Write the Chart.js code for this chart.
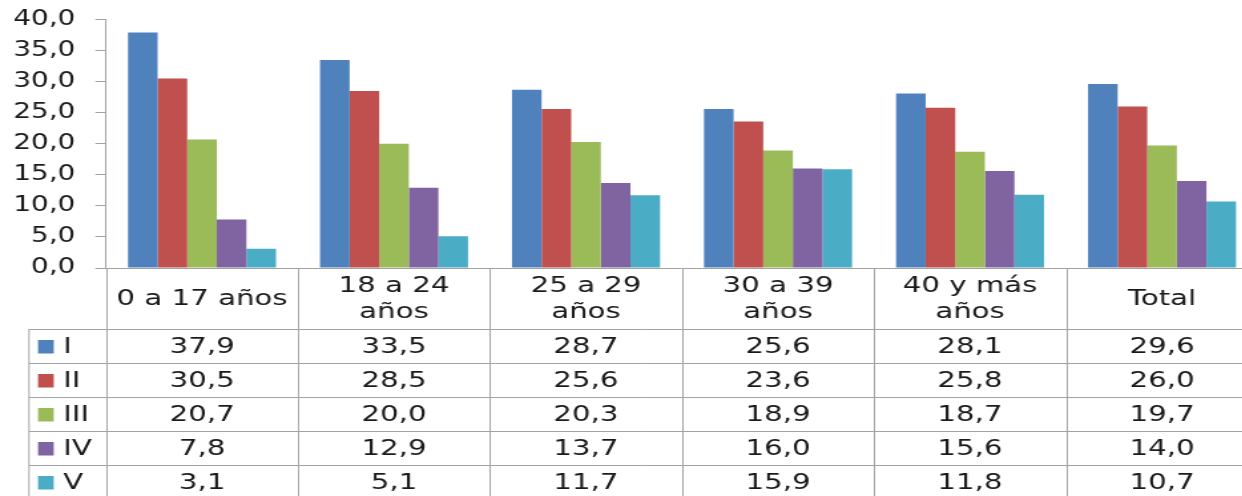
<!DOCTYPE html>
<html>
<head>
<meta charset="utf-8">
<script src="https://cdn.jsdelivr.net/npm/chart.js@4/dist/chart.umd.min.js"></script>
<style>
  html, body { margin: 0; padding: 0; background: #fff; overflow: hidden; }
  #wrap {
    position: absolute; left: 0; top: 0;
    width: 960px; height: 496px;
    transform: scaleX(1.33); transform-origin: 0 0;
  }
</style>
</head>
<body>
<div id="wrap"><canvas id="chart" width="960" height="496"></canvas></div>
<script>
// categories (header lines of the data table)
const categories = [
  ["0 a 17 años"],
  ["18 a 24", "años"],
  ["25 a 29", "años"],
  ["30 a 39", "años"],
  ["40 y más", "años"],
  ["Total"]
];
const seriesNames = ["I", "II", "III", "IV", "V"];
const serieI = [37.9, 33.5, 28.7, 25.6, 28.1, 29.6];
const serieII = [30.5, 28.5, 25.6, 23.6, 25.8, 26.0];
const serieIII = [20.7, 20.0, 20.3, 18.9, 18.7, 19.7];
const serieIV = [7.8, 12.9, 13.7, 16.0, 15.6, 14.0];
const serieV = [3.1, 5.1, 11.7, 15.9, 11.8, 10.7];
const yTicks = [0, 5, 10, 15, 20, 25, 30, 35, 40];

const colors = ["#4F81BD", "#C0504D", "#9BBB59", "#8064A2", "#4BACC6"];
const allSeries = [serieI, serieII, serieIII, serieIV, serieV];
const lineColor = "#a3a3a3";
const textColor = "#1a1a1a";
const FONT = "DejaVu Sans";

function fmt(v) {
  return v.toFixed(1).replace(".", ",");
}

// draws the data table under the bars
const tablePlugin = {
  id: "dataTable",
  afterDraw(chart) {
    const ctx = chart.ctx;
    const area = chart.chartArea;
    const xs = chart.scales.x;
    const catW = (area.right - area.left) / categories.length;
    const headerBottom = area.bottom + 61;
    const rowH = 34;
    const legendLeft = 21.8;

    ctx.save();
    ctx.strokeStyle = lineColor;
    ctx.lineWidth = 1;

    // verticals
    for (let i = 0; i <= categories.length; i++) {
      const x = Math.round(area.left + i * catW) + 0.5;
      ctx.beginPath();
      ctx.moveTo(x, area.bottom);
      ctx.lineTo(x, chart.height);
      ctx.stroke();
    }
    ctx.beginPath();
    ctx.moveTo(legendLeft, headerBottom);
    ctx.lineTo(legendLeft, chart.height);
    ctx.stroke();

    // horizontals
    for (let r = 0; r <= seriesNames.length; r++) {
      const y = Math.round(headerBottom + r * rowH) + 0.5;
      ctx.beginPath();
      ctx.moveTo(legendLeft, y);
      ctx.lineTo(area.right, y);
      ctx.stroke();
    }

    ctx.fillStyle = textColor;
    ctx.font = "22px '" + FONT + "'";
    ctx.textAlign = "center";
    ctx.textBaseline = "middle";

    // header
    const headMid = (area.bottom + headerBottom) / 2 + 1;
    categories.forEach((lines, i) => {
      const cx = xs.getPixelForValue(i);
      const lh = 26;
      const y0 = headMid - (lines.length - 1) * lh / 2;
      lines.forEach((t, k) => ctx.fillText(t, cx, y0 + k * lh));
    });

    // rows
    seriesNames.forEach((name, r) => {
      const cy = headerBottom + r * rowH + rowH / 2 + 1;
      ctx.fillStyle = colors[r];
      ctx.fillRect(28.6, cy - 7, 11.8, 13.5);
      ctx.fillStyle = textColor;
      ctx.textAlign = "left";
      ctx.fillText(name, 47.4, cy);
      ctx.textAlign = "center";
      allSeries[r].forEach((v, i) => {
        ctx.fillText(fmt(v), xs.getPixelForValue(i), cy);
      });
    });
    ctx.restore();
  }
};

const ctx = document.getElementById("chart").getContext("2d");
new Chart(ctx, {
  type: "bar",
  data: {
    labels: categories,
    datasets: seriesNames.map((n, i) => ({
      label: n,
      data: allSeries[i],
      backgroundColor: colors[i],
      borderWidth: 0,
      categoryPercentage: 0.771,
      barPercentage: 1.0
    }))
  },
  options: {
    responsive: false,
    animation: false,
    devicePixelRatio: 1,
    layout: { padding: { top: 19.5, right: 14.1, bottom: 0, left: 0 } },
    plugins: { legend: { display: false }, tooltip: { enabled: false } },
    scales: {
      x: {
        ticks: { display: false },
        grid: { display: false },
        border: { display: true, color: lineColor, width: 1 },
        afterFit: (s) => { s.height = 228; s.paddingLeft = 0; s.paddingRight = 0; }
      },
      y: {
        min: 0,
        max: 40,
        afterBuildTicks: (s) => { s.ticks = yTicks.map(v => ({ value: v })); },
        ticks: {
          padding: 15,
          color: textColor,
          font: { family: FONT, size: 21 },
          callback: (v) => fmt(v)
        },
        grid: { drawOnChartArea: false, drawTicks: true, tickLength: 8, color: lineColor },
        border: { display: true, color: lineColor, width: 1 },
        afterFit: (s) => { s.width = 79.7; s.paddingTop = 0; s.paddingBottom = 0; }
      }
    }
  },
  plugins: [tablePlugin]
});
</script>
</body>
</html>
